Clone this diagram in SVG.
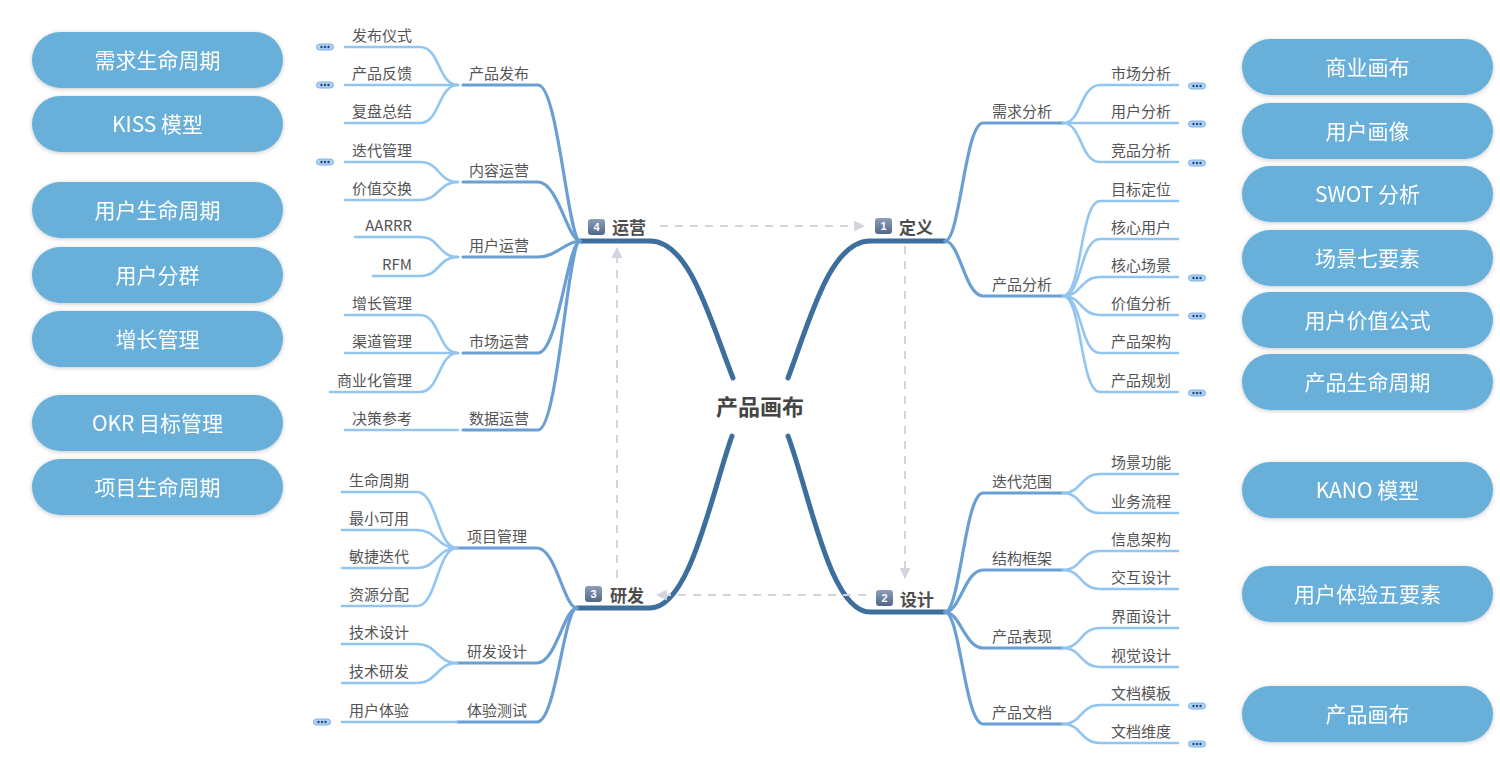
<svg xmlns="http://www.w3.org/2000/svg" width="1500" height="759" viewBox="0 0 1500 759">
<defs>
<style>
.pill{fill:#68b0da}
.pt{font-family:"Noto Sans CJK SC","Liberation Sans",sans-serif;font-size:21px;fill:#fff;text-anchor:middle}
.main{fill:none;stroke:#3d6e9e;stroke-width:5;stroke-linecap:round}
.sec{fill:none;stroke:#6a9fd3;stroke-width:3.2;stroke-linecap:round}
.leaf{fill:none;stroke:#92c6f1;stroke-width:2.6;stroke-linecap:round}
.dash{fill:none;stroke:#d4d4df;stroke-width:2;stroke-dasharray:8 7}
.t{font-family:"Noto Sans CJK SC","Liberation Sans",sans-serif;font-size:15px;fill:#555}
.tl{text-anchor:end}
.tm{text-anchor:middle}
.ts{text-anchor:start}
.top{font-family:"Noto Sans CJK SC","Liberation Sans",sans-serif;font-size:17px;font-weight:bold;fill:#4e4e4e}
.ctr{font-family:"Noto Sans CJK SC","Liberation Sans",sans-serif;font-size:22px;font-weight:bold;fill:#454545;text-anchor:middle}
.badge{fill:url(#bg)}
.bt{font-family:"Liberation Sans",sans-serif;font-size:11px;font-weight:bold;fill:#fff;text-anchor:middle}
.more{fill:#aed2f5;stroke:#7fb1e8;stroke-width:1}
.dot{fill:#27466f}
</style>
<linearGradient id="bg" x1="0" y1="0" x2="0" y2="1"><stop offset="0" stop-color="#8d9fb9"/><stop offset="1" stop-color="#526787"/></linearGradient>
<filter id="sh" x="-10%" y="-30%" width="120%" height="160%"><feDropShadow dx="0" dy="1" stdDeviation="2" flood-color="#000" flood-opacity="0.22"/></filter>
<marker id="ah" viewBox="0 0 10 10" refX="9" refY="5" markerWidth="5.5" markerHeight="5.5" orient="auto" markerUnits="strokeWidth"><path d="M0 0 L10 5 L0 10 Z" fill="#d4d4df"/></marker>
<g id="dots"><rect class="more" x="-8.5" y="-3" width="17" height="6" rx="3"/><circle class="dot" cx="-3.5" cy="0" r="1.2"/><circle class="dot" cx="0" cy="0" r="1.2"/><circle class="dot" cx="3.5" cy="0" r="1.2"/></g>
</defs>
<rect width="1500" height="759" fill="#fff"/>

<g id="pills-left" filter="url(#sh)">
<g id="p-l1"><rect class="pill" x="32" y="32" width="251" height="56" rx="28"/><text class="pt" x="157.5" y="67.5">需求生命周期</text></g>
<g id="p-l2"><rect class="pill" x="32" y="96" width="251" height="56" rx="28"/><text class="pt" x="157.5" y="131.5">KISS 模型</text></g>
<g id="p-l3"><rect class="pill" x="32" y="182" width="251" height="56" rx="28"/><text class="pt" x="157.5" y="217.5">用户生命周期</text></g>
<g id="p-l4"><rect class="pill" x="32" y="247" width="251" height="56" rx="28"/><text class="pt" x="157.5" y="282.5">用户分群</text></g>
<g id="p-l5"><rect class="pill" x="32" y="311" width="251" height="56" rx="28"/><text class="pt" x="157.5" y="346.5">增长管理</text></g>
<g id="p-l6"><rect class="pill" x="32" y="395" width="251" height="56" rx="28"/><text class="pt" x="157.5" y="430.5">OKR 目标管理</text></g>
<g id="p-l7"><rect class="pill" x="32" y="459" width="251" height="56" rx="28"/><text class="pt" x="157.5" y="494.5">项目生命周期</text></g>
</g>
<g id="pills-right" filter="url(#sh)">
<g id="p-r1"><rect class="pill" x="1242" y="39" width="251" height="56" rx="28"/><text class="pt" x="1367.5" y="74.5">商业画布</text></g>
<g id="p-r2"><rect class="pill" x="1242" y="103" width="251" height="56" rx="28"/><text class="pt" x="1367.5" y="138.5">用户画像</text></g>
<g id="p-r3"><rect class="pill" x="1242" y="166" width="251" height="56" rx="28"/><text class="pt" x="1367.5" y="201.5">SWOT 分析</text></g>
<g id="p-r4"><rect class="pill" x="1242" y="230" width="251" height="56" rx="28"/><text class="pt" x="1367.5" y="265.5">场景七要素</text></g>
<g id="p-r5"><rect class="pill" x="1242" y="292" width="251" height="56" rx="28"/><text class="pt" x="1367.5" y="327.5">用户价值公式</text></g>
<g id="p-r6"><rect class="pill" x="1242" y="354" width="251" height="56" rx="28"/><text class="pt" x="1367.5" y="389.5">产品生命周期</text></g>
<g id="p-r7"><rect class="pill" x="1242" y="462" width="251" height="56" rx="28"/><text class="pt" x="1367.5" y="497.5">KANO 模型</text></g>
<g id="p-r8"><rect class="pill" x="1242" y="566" width="251" height="56" rx="28"/><text class="pt" x="1367.5" y="601.5">用户体验五要素</text></g>
<g id="p-r9"><rect class="pill" x="1242" y="686" width="251" height="56" rx="28"/><text class="pt" x="1367.5" y="721.5">产品画布</text></g>
</g>

<g id="connectors">
<path class="main" d="M733 378 C710 320 690 241 650 241 L580 241"/>
<path class="main" d="M788 378 C810 320 830 241 870 241 L945 241"/>
<path class="main" d="M732 436 C711 495 690 608 650 608 L577 608"/>
<path class="main" d="M788 436 C810 495 830 612 870 612 L945 612"/>

<path class="dash" d="M660 226 L864 226" marker-end="url(#ah)"/>
<path class="dash" d="M905 246 L905 578" marker-end="url(#ah)"/>
<path class="dash" d="M866 595 L657 595" marker-end="url(#ah)"/>
<path class="dash" d="M617 578 L617 248" marker-end="url(#ah)"/>

<path class="sec" d="M580 241 C568 241 558 85 538 85 L463 85"/>
<path class="sec" d="M580 241 C568 241 558 182 538 182 L463 182"/>
<path class="sec" d="M580 241 C566 241 556 257 538 257 L463 257"/>
<path class="sec" d="M580 241 C568 241 558 353 538 353 L463 353"/>
<path class="sec" d="M580 241 C568 241 558 430 538 430 L463 430"/>

<path class="leaf" d="M458 85 C438 85 440 47 420 47 L345 47"/>
<path class="leaf" d="M458 85 L345 85"/>
<path class="leaf" d="M458 85 C438 85 440 123 420 123 L345 123"/>
<path class="leaf" d="M458 182 C438 182 440 162 420 162 L345 162"/>
<path class="leaf" d="M458 182 C438 182 440 200 420 200 L345 200"/>
<path class="leaf" d="M458 257 C438 257 440 237 420 237 L355 237"/>
<path class="leaf" d="M458 257 C438 257 440 276 420 276 L373 276"/>
<path class="leaf" d="M458 353 C438 353 440 315 420 315 L345 315"/>
<path class="leaf" d="M458 353 L345 353"/>
<path class="leaf" d="M458 353 C438 353 440 392 420 392 L330 392"/>
<path class="leaf" d="M458 430 L345 430"/>

<path class="sec" d="M577 608 C564 608 556 548 537 548 L457 548"/>
<path class="sec" d="M577 608 C564 608 556 663 537 663 L457 663"/>
<path class="sec" d="M577 608 C564 608 556 722 537 722 L457 722"/>

<path class="leaf" d="M457 548 C437 548 437 492 417 492 L342 492"/>
<path class="leaf" d="M457 548 C437 548 437 530 417 530 L342 530"/>
<path class="leaf" d="M457 548 C437 548 437 568 417 568 L342 568"/>
<path class="leaf" d="M457 548 C437 548 437 606 417 606 L342 606"/>
<path class="leaf" d="M457 663 C437 663 437 644 417 644 L342 644"/>
<path class="leaf" d="M457 663 C437 663 437 683 417 683 L342 683"/>
<path class="leaf" d="M457 722 L342 722"/>

<path class="sec" d="M945 241 C960 241 965 123 983 123 L1063 123"/>
<path class="sec" d="M945 241 C960 241 965 296 983 296 L1063 296"/>
<path class="leaf" d="M1063 123 C1082 123 1080 85 1100 85 L1178 85"/>
<path class="leaf" d="M1063 123 L1178 123"/>
<path class="leaf" d="M1063 123 C1082 123 1080 162 1100 162 L1178 162"/>
<path class="leaf" d="M1063 296 C1082 296 1080 201 1100 201 L1178 201"/>
<path class="leaf" d="M1063 296 C1082 296 1080 239 1100 239 L1178 239"/>
<path class="leaf" d="M1063 296 C1082 296 1080 277 1100 277 L1178 277"/>
<path class="leaf" d="M1063 296 C1082 296 1080 315 1100 315 L1178 315"/>
<path class="leaf" d="M1063 296 C1082 296 1080 353 1100 353 L1178 353"/>
<path class="leaf" d="M1063 296 C1082 296 1080 392 1100 392 L1178 392"/>

<path class="sec" d="M945 612 C960 612 965 493 983 493 L1063 493"/>
<path class="sec" d="M945 612 C960 612 965 570 983 570 L1063 570"/>
<path class="sec" d="M945 612 C960 612 965 648 983 648 L1063 648"/>
<path class="sec" d="M945 612 C960 612 965 724 983 724 L1063 724"/>
<path class="leaf" d="M1063 493 C1082 493 1080 474 1100 474 L1178 474"/>
<path class="leaf" d="M1063 493 C1082 493 1080 513 1100 513 L1178 513"/>
<path class="leaf" d="M1063 570 C1082 570 1080 551 1100 551 L1178 551"/>
<path class="leaf" d="M1063 570 C1082 570 1080 589 1100 589 L1178 589"/>
<path class="leaf" d="M1063 648 C1082 648 1080 628 1100 628 L1178 628"/>
<path class="leaf" d="M1063 648 C1082 648 1080 667 1100 667 L1178 667"/>
<path class="leaf" d="M1063 724 C1082 724 1080 705 1100 705 L1178 705"/>
<path class="leaf" d="M1063 724 C1082 724 1080 743 1100 743 L1178 743"/>

<use href="#dots" x="325" y="47"/>
<use href="#dots" x="325" y="85"/>
<use href="#dots" x="325" y="162"/>
<use href="#dots" x="322" y="722"/>
<use href="#dots" x="1197" y="86"/>
<use href="#dots" x="1197" y="124"/>
<use href="#dots" x="1197" y="163"/>
<use href="#dots" x="1197" y="278"/>
<use href="#dots" x="1197" y="316"/>
<use href="#dots" x="1197" y="393"/>
<use href="#dots" x="1197" y="706"/>
<use href="#dots" x="1197" y="744"/>
</g>

<g id="center"><text class="ctr" x="760" y="415">产品画布</text></g>

<g id="topic-4"><rect class="badge" x="588" y="219" width="17" height="16" rx="3"/><text class="bt" x="596.5" y="231">4</text><text class="top" x="612" y="234">运营</text></g>
<g id="topic-1"><rect class="badge" x="875" y="218" width="17" height="16" rx="3"/><text class="bt" x="883.5" y="230">1</text><text class="top" x="899" y="234">定义</text></g>
<g id="topic-2"><rect class="badge" x="876" y="590" width="17" height="16" rx="3"/><text class="bt" x="884.5" y="602">2</text><text class="top" x="900" y="606">设计</text></g>
<g id="topic-3"><rect class="badge" x="585" y="586" width="17" height="16" rx="3"/><text class="bt" x="593.5" y="598">3</text><text class="top" x="610" y="602">研发</text></g>

<g id="n-cpfb"><text class="t tm" x="499" y="79">产品发布</text></g>
<g id="n-fbys"><text class="t tl" x="412" y="41">发布仪式</text></g>
<g id="n-cpfk"><text class="t tl" x="412" y="79">产品反馈</text></g>
<g id="n-fpzj"><text class="t tl" x="412" y="117">复盘总结</text></g>
<g id="n-nryy"><text class="t tm" x="499" y="176">内容运营</text></g>
<g id="n-ddgl"><text class="t tl" x="412" y="156">迭代管理</text></g>
<g id="n-jzjh"><text class="t tl" x="412" y="194">价值交换</text></g>
<g id="n-yhyy"><text class="t tm" x="499" y="251">用户运营</text></g>
<g id="n-aarrr"><text class="t tl" x="412" y="231">AARRR</text></g>
<g id="n-rfm"><text class="t tl" x="412" y="270">RFM</text></g>
<g id="n-scyy"><text class="t tm" x="499" y="347">市场运营</text></g>
<g id="n-zzgl"><text class="t tl" x="412" y="309">增长管理</text></g>
<g id="n-qdgl"><text class="t tl" x="412" y="347">渠道管理</text></g>
<g id="n-syhgl"><text class="t tl" x="412" y="386">商业化管理</text></g>
<g id="n-sjyy"><text class="t tm" x="499" y="424">数据运营</text></g>
<g id="n-jcck"><text class="t tl" x="412" y="424">决策参考</text></g>

<g id="n-xmgl"><text class="t tm" x="497" y="542">项目管理</text></g>
<g id="n-smzq"><text class="t tl" x="409" y="486">生命周期</text></g>
<g id="n-zxky"><text class="t tl" x="409" y="524">最小可用</text></g>
<g id="n-mjdd"><text class="t tl" x="409" y="562">敏捷迭代</text></g>
<g id="n-zyfp"><text class="t tl" x="409" y="600">资源分配</text></g>
<g id="n-yfsj"><text class="t tm" x="497" y="657">研发设计</text></g>
<g id="n-jssj"><text class="t tl" x="409" y="638">技术设计</text></g>
<g id="n-jsyf"><text class="t tl" x="409" y="677">技术研发</text></g>
<g id="n-tycs"><text class="t tm" x="497" y="716">体验测试</text></g>
<g id="n-yhty"><text class="t tl" x="409" y="716">用户体验</text></g>

<g id="n-xqfx"><text class="t tm" x="1022" y="117">需求分析</text></g>
<g id="n-scfx"><text class="t ts" x="1111" y="79">市场分析</text></g>
<g id="n-yhfx"><text class="t ts" x="1111" y="117">用户分析</text></g>
<g id="n-jpfx"><text class="t ts" x="1111" y="156">竞品分析</text></g>
<g id="n-cpfx"><text class="t tm" x="1022" y="290">产品分析</text></g>
<g id="n-mbdw"><text class="t ts" x="1111" y="195">目标定位</text></g>
<g id="n-hxyh"><text class="t ts" x="1111" y="233">核心用户</text></g>
<g id="n-hxcj"><text class="t ts" x="1111" y="271">核心场景</text></g>
<g id="n-jzfx"><text class="t ts" x="1111" y="309">价值分析</text></g>
<g id="n-cpjg"><text class="t ts" x="1111" y="347">产品架构</text></g>
<g id="n-cpgh"><text class="t ts" x="1111" y="386">产品规划</text></g>

<g id="n-ddfw"><text class="t tm" x="1022" y="487">迭代范围</text></g>
<g id="n-cjgn"><text class="t ts" x="1111" y="468">场景功能</text></g>
<g id="n-ywlc"><text class="t ts" x="1111" y="507">业务流程</text></g>
<g id="n-jgkj"><text class="t tm" x="1022" y="564">结构框架</text></g>
<g id="n-xxjg"><text class="t ts" x="1111" y="545">信息架构</text></g>
<g id="n-jhsj"><text class="t ts" x="1111" y="583">交互设计</text></g>
<g id="n-cpbx"><text class="t tm" x="1022" y="642">产品表现</text></g>
<g id="n-jmsj"><text class="t ts" x="1111" y="622">界面设计</text></g>
<g id="n-sjsj"><text class="t ts" x="1111" y="661">视觉设计</text></g>
<g id="n-cpwd"><text class="t tm" x="1022" y="718">产品文档</text></g>
<g id="n-wdmb"><text class="t ts" x="1111" y="699">文档模板</text></g>
<g id="n-wdwd"><text class="t ts" x="1111" y="737">文档维度</text></g>
</svg>
